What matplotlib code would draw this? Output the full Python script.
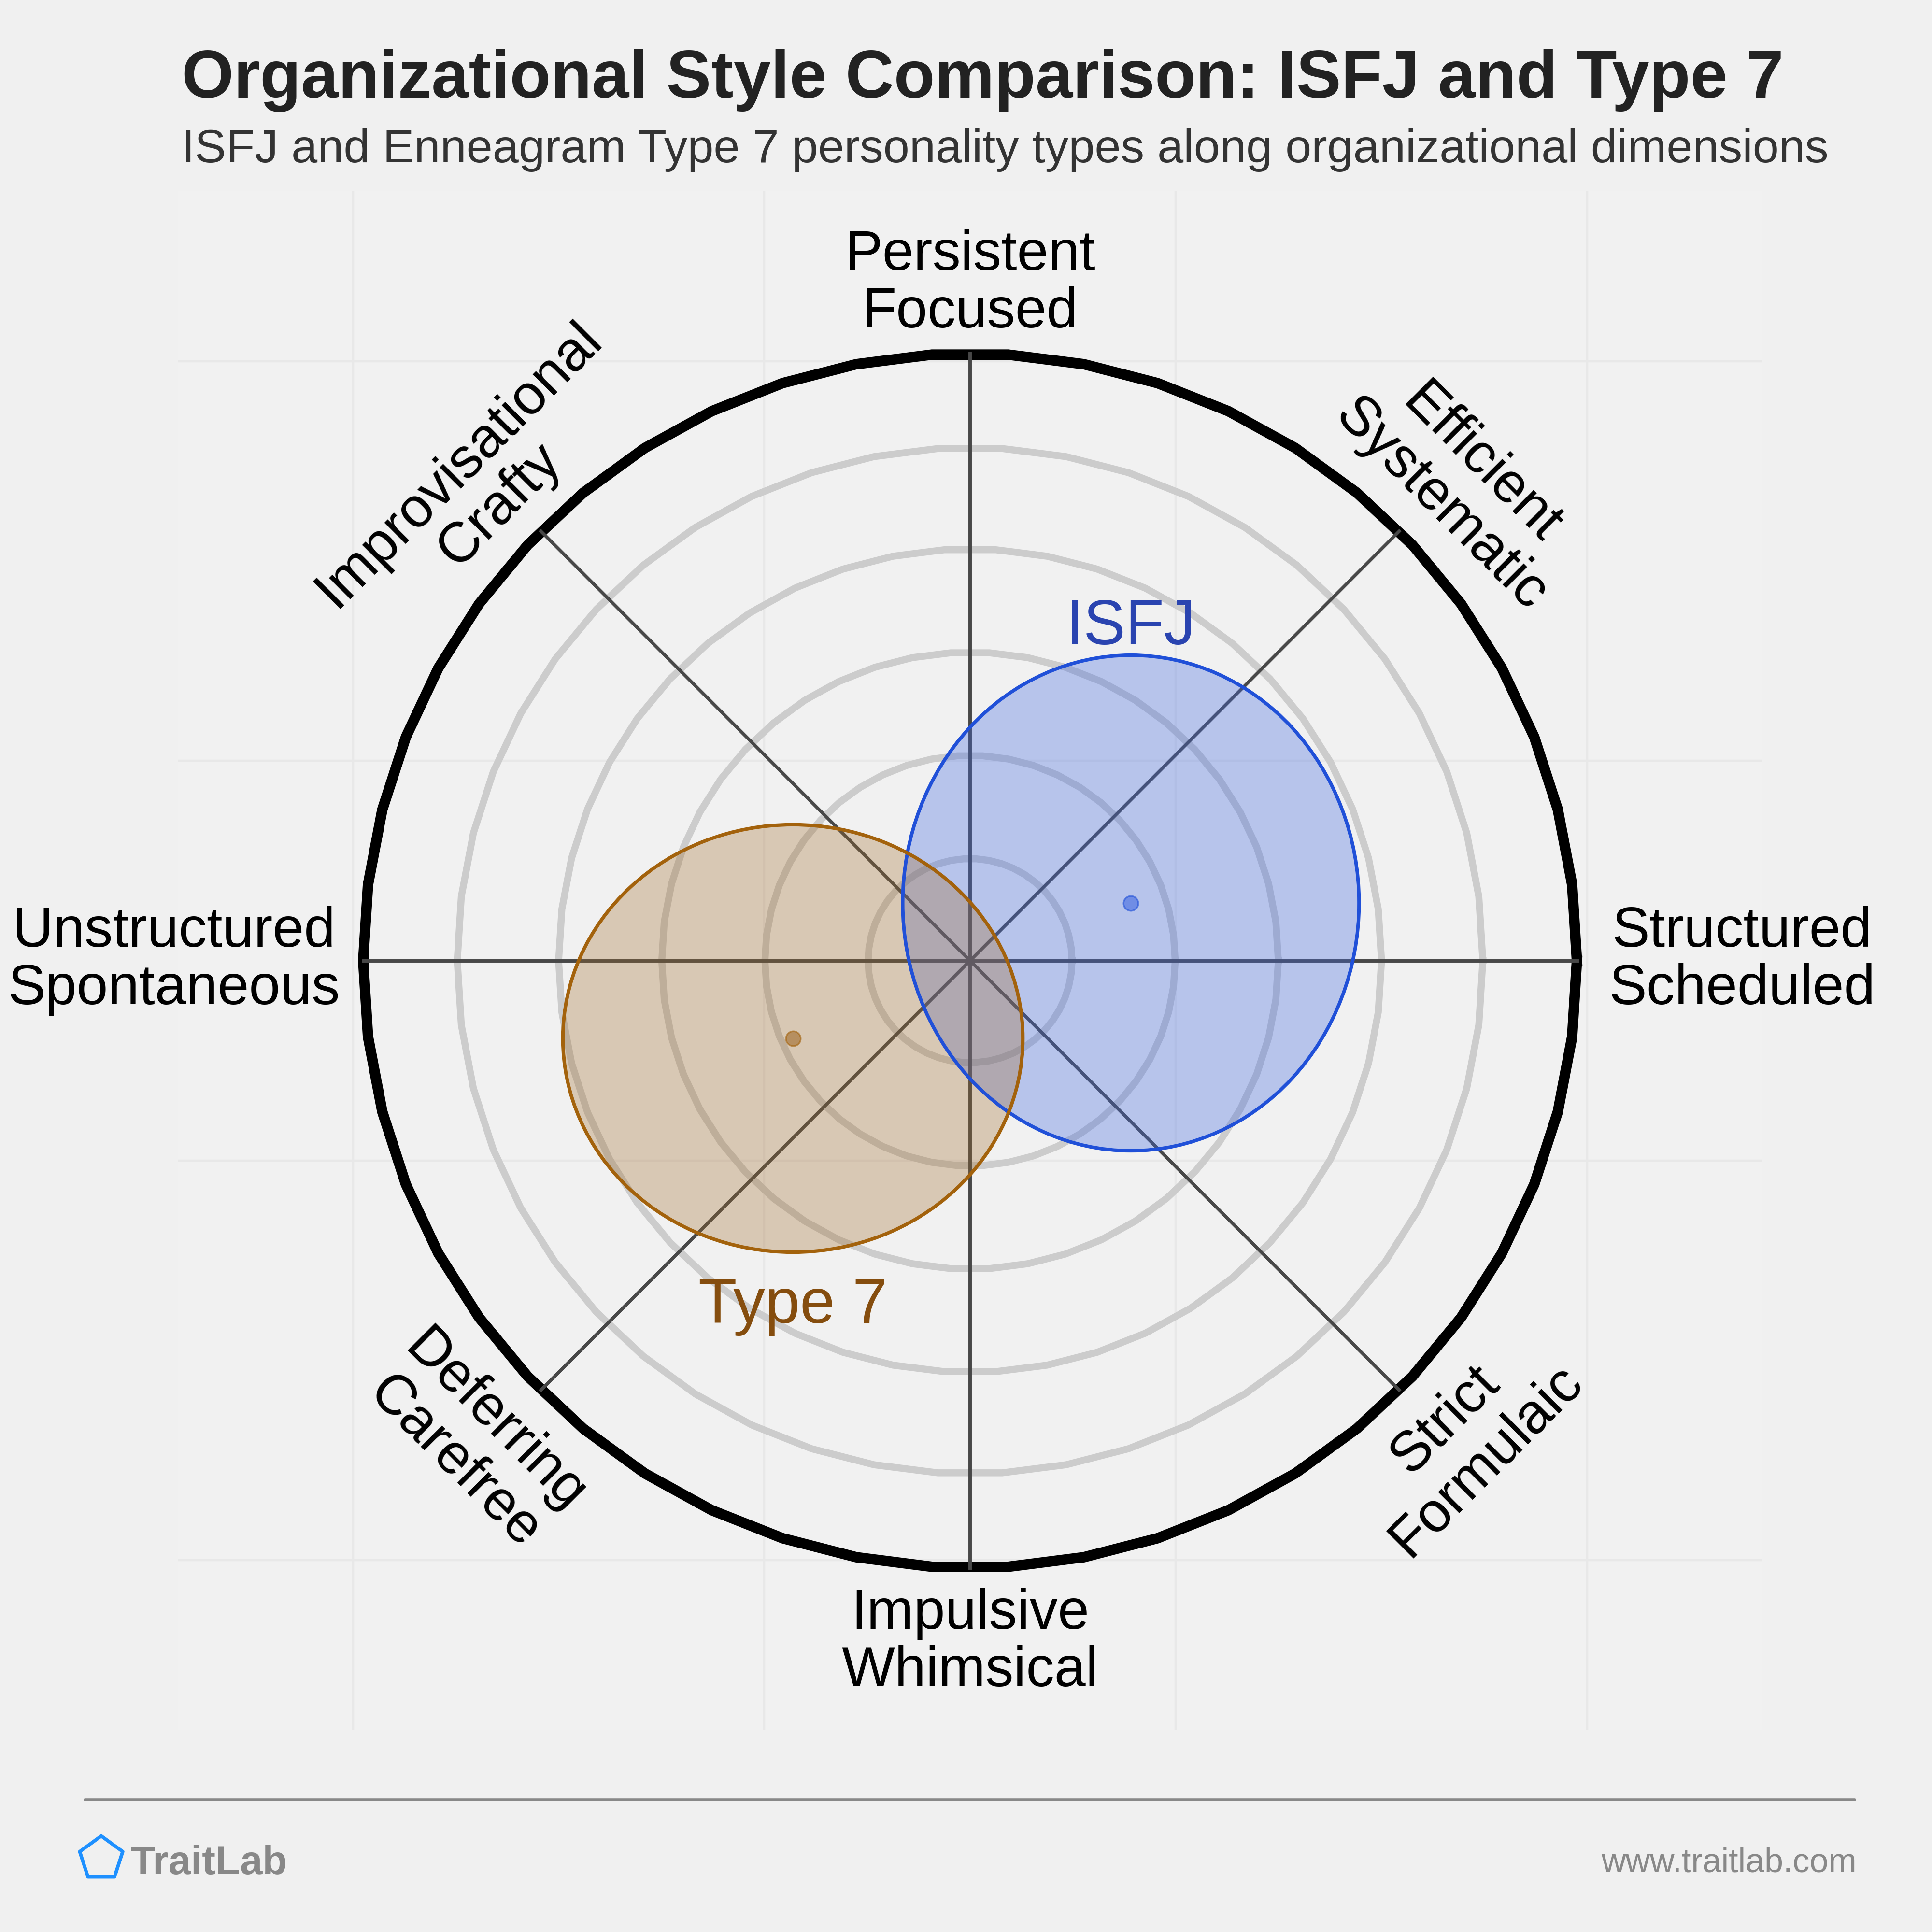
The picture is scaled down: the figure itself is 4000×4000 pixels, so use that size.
import numpy as np
import matplotlib
matplotlib.use('Agg')
import matplotlib.pyplot as plt
from matplotlib.patches import Ellipse, Polygon

plt.rcParams['font.family'] = ['Liberation Sans', 'DejaVu Sans']

# Chart data (outer ring = 100)
ring_radii = [16.8, 33.8, 50.8, 67.8, 84.5, 100]
spoke_angles = [0, 45, 90, 135, 180, 225, 270, 315]

type_names = ['ISFJ', 'Type 7']
center_x = [26.5, -29.2]
center_y = [9.5, -12.8]
radius_x = [37.6, 37.9]
radius_y = [40.8, 35.2]

axis_labels = ['Structured\nScheduled', 'Efficient\nSystematic', 'Persistent\nFocused',
               'Improvisational\nCrafty', 'Unstructured\nSpontaneous', 'Deferring\nCarefree',
               'Impulsive\nWhimsical', 'Strict\nFormulaic']

title = 'Organizational Style Comparison: ISFJ and Type 7'
subtitle = 'ISFJ and Enneagram Type 7 personality types along organizational dimensions'

# styles
fill_colors = ['#4169e1', '#a06a28']
edge_colors = ['#2050d8', '#a3620c']
text_colors = ['#2a44b0', '#854d0e']
fill_alpha = [0.33, 0.3]

fig = plt.figure(figsize=(10, 10), dpi=400, facecolor='#f0f0f0')
ax = fig.add_axes([0.0922, 0.1045, 0.8198, 0.7965])
ax.set_facecolor('#f1f1f1')
ax.set_xlim(-130.5, 130.5)
ax.set_ylim(-126.7, 126.7)
ax.set_xticks([-101.7, -33.9, 33.9, 101.7])
ax.set_yticks([-98.7, -32.9, 32.9, 98.7])
ax.grid(True, color='#e8e8e8', linewidth=0.8)
ax.tick_params(length=0, labelbottom=False, labelleft=False)
for s in ax.spines.values():
    s.set_visible(False)
ax.set_axisbelow(True)

# rings as 50-sided polygons with flat top
theta = np.deg2rad(np.arange(0, 360 + 7.2, 7.2))
for r in ring_radii:
    if r == ring_radii[-1]:
        ax.plot(r * np.cos(theta), r * np.sin(theta), color='black', lw=3.9, zorder=2,
                solid_joinstyle='miter')
    else:
        ax.plot(r * np.cos(theta), r * np.sin(theta), color='#cccccc', lw=2.6, zorder=1)

# spokes
R = ring_radii[-1]
for a in spoke_angles:
    t = np.deg2rad(a)
    ax.plot([0, R * np.cos(t)], [0, R * np.sin(t)], color='#484848', lw=1.25, zorder=3)

# type ellipses
for i, name in enumerate(type_names):
    e = Ellipse((center_x[i], center_y[i]), 2 * radius_x[i], 2 * radius_y[i],
                facecolor=fill_colors[i], alpha=fill_alpha[i], edgecolor='none', zorder=4)
    ax.add_patch(e)
    e2 = Ellipse((center_x[i], center_y[i]), 2 * radius_x[i], 2 * radius_y[i],
                 facecolor='none', edgecolor=edge_colors[i], lw=1.3, zorder=5)
    ax.add_patch(e2)
    ax.plot(center_x[i], center_y[i], 'o', ms=5.5, color=fill_colors[i], alpha=0.6,
            markeredgecolor=edge_colors[i], markeredgewidth=0.6, zorder=6)

ax.text(center_x[0], center_y[0] + radius_y[0] + 1.8, type_names[0], color=text_colors[0],
        fontsize=23.5, ha='center', va='baseline', zorder=7)
ax.text(center_x[1], center_y[1] - radius_y[1] - 4.0, type_names[1], color=text_colors[1],
        fontsize=23.5, ha='center', va='top', zorder=7)

# axis labels
lab_kw = dict(fontsize=21, color='black', linespacing=1.12, multialignment='center')
ax.text(105.3, 0, axis_labels[0], ha='left', va='center', **lab_kw)
ax.text(80.9, 78.4, axis_labels[1], ha='center', va='center', rotation=-45,
        rotation_mode='anchor', **lab_kw)
ax.text(0, 111.4, axis_labels[2], ha='center', va='center', **lab_kw)
ax.text(-80.9, 78.3, axis_labels[3], ha='center', va='center', rotation=45,
        rotation_mode='anchor', **lab_kw)
ax.text(-103.8, 0, axis_labels[4], ha='right', va='center', **lab_kw)
ax.text(-81.7, -79.2, axis_labels[5], ha='center', va='center', rotation=-45,
        rotation_mode='anchor', **lab_kw)
ax.text(0, -112.3, axis_labels[6], ha='center', va='center', **lab_kw)
ax.text(81.7, -79.0, axis_labels[7], ha='center', va='center', rotation=45,
        rotation_mode='anchor', **lab_kw)

# titles
fig.text(0.094, 0.9495, title, fontsize=25, fontweight='bold', color='#222222',
         ha='left', va='baseline')
fig.text(0.094, 0.916, subtitle, fontsize=17.5, color='#333333', ha='left', va='baseline')

# footer
fig.add_artist(plt.Line2D([0.044, 0.96], [0.0685, 0.0685], color='#888888', lw=1.0,
                          solid_capstyle='round', transform=fig.transFigure))
pr = 0.0117
pang = np.deg2rad(90 + 72 * np.arange(5))
pent = np.column_stack([0.0524 + pr * np.cos(pang), 0.038 + pr * np.sin(pang)])
fig.add_artist(Polygon(pent, closed=True, facecolor='none', edgecolor='#1e90ff', lw=1.3,
                       joinstyle='round', transform=fig.transFigure))
fig.text(0.0675, 0.030, 'TraitLab', fontsize=15, fontweight='bold', color='#888888',
         ha='left', va='baseline')
fig.text(0.961, 0.031, 'www.traitlab.com', fontsize=12.6, color='#888888',
         ha='right', va='baseline')

fig.savefig('out.png', dpi=400, facecolor=fig.get_facecolor())
